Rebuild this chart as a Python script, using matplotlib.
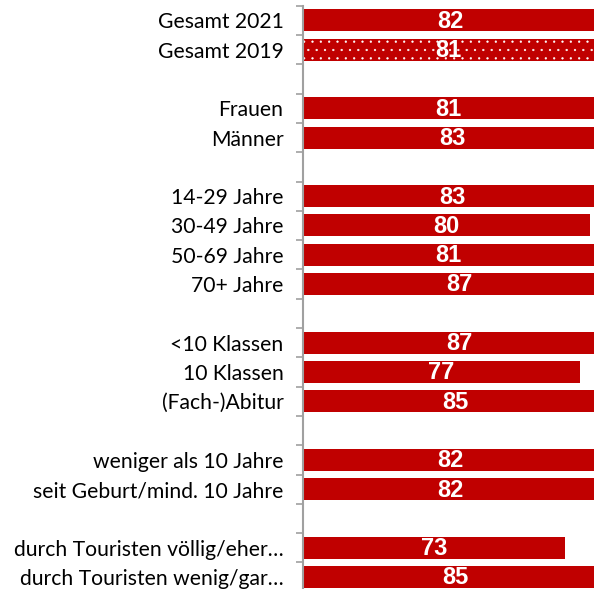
import matplotlib
matplotlib.use("Agg")
import matplotlib.pyplot as plt
import numpy as np

categories = ["Gesamt 2021", "Gesamt 2019", "",
              "Frauen", "Männer", "",
              "14-29 Jahre", "30-49 Jahre", "50-69 Jahre", "70+ Jahre", "",
              "<10 Klassen", "10 Klassen", "(Fach-)Abitur", "",
              "weniger als 10 Jahre", "seit Geburt/mind. 10 Jahre", "",
              "durch Touristen völlig/eher…", "durch Touristen wenig/gar…"]
values = [82, 81, None,
          81, 83, None,
          83, 80, 81, 87, None,
          87, 77, 85, None,
          82, 82, None,
          73, 85]
hatched = ["Gesamt 2019"]

RED = "#C00000"
plt.rcParams['hatch.linewidth'] = 0.4

fig = plt.figure(figsize=(5.94, 5.89), dpi=100)
W, H = 594, 589
left_px, top_px, bottom_px = 303, 5.7, 591.7
ax = fig.add_axes([left_px / W, (H - bottom_px) / H, 1 - left_px / W, (bottom_px - top_px) / H])

n = len(categories)
ys = np.arange(n)
for y, cat, v in zip(ys, categories, values):
    if v is None:
        continue
    if cat in hatched:
        ax.barh(y, v, height=0.75, color=RED, edgecolor="white", hatch="..", linewidth=0)
    else:
        ax.barh(y, v, height=0.75, color=RED, linewidth=0)
    ax.text(v / 2, y + 0.03, str(v), ha="center", va="center", color="white",
            fontsize=17, fontweight="bold", family="Liberation Sans")

ax.set_xlim(0, 81.0)
ax.set_ylim(n - 0.5, -0.5)
ax.set_yticks(ys)
ax.set_yticklabels(categories, family="Lato", fontsize=15.2)
ax.tick_params(axis="y", which="major", length=0, pad=14)
ax.set_yticks(np.arange(-0.5, n + 0.5, 1), minor=True)
ax.tick_params(axis="y", which="minor", length=5, color="#A0A0A0", width=1.2)
ax.set_xticks([])
for s in ["top", "right", "bottom"]:
    ax.spines[s].set_visible(False)
ax.spines["left"].set_color("#A0A0A0")
ax.spines["left"].set_linewidth(1.5)

fig.savefig("out.png", dpi=100)
